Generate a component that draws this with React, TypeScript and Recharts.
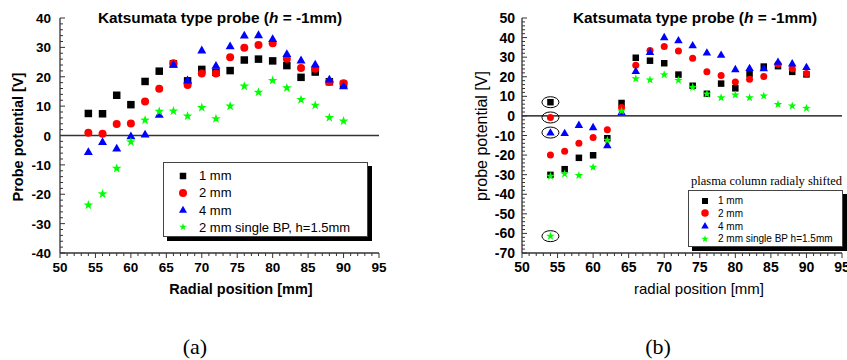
import React from "react";
import { ScatterChart, Scatter, XAxis, YAxis, ReferenceLine, Legend } from "recharts";

// (a) Katsumata probe, h = -1mm
const radialA = [54, 56, 58, 60, 62, 64, 66, 68, 70, 72, 74, 76, 78, 80, 82, 84, 86, 88, 90];
const probeA1mm = [7.5, 7.4, 13.7, 10.5, 18.4, 21.9, 24.4, 18.6, 22.5, 21.5, 22.1, 25.7, 26, 25.4, 23.8, 19.8, 21.6, 18.3, 17.4];
const probeA2mm = [0.9, 0.6, 3.9, 4.1, 11.6, 15.9, 24.6, 17.2, 21.1, 21.1, 26.6, 29.9, 30.8, 31.4, 26.1, 23, 22.7, 18.2, 17.8];
const probeA4mm = [-5.6, -2.2, -4.4, -0.2, 0.4, 7.1, 24.1, 18.8, 29, 23.8, 30.4, 34.1, 34.2, 32.9, 27.8, 25.6, 24.2, 19.1, 16.8];
const probeABP = [-23.7, -19.9, -11.2, -2.2, 5.2, 8.2, 8.3, 6.6, 9.5, 5.7, 10, 16.8, 14.7, 18.7, 16.2, 12.2, 10.3, 6.1, 4.9];

// (b) plasma column radially shifted
const radialB = [54, 56, 58, 60, 62, 64, 66, 68, 70, 72, 74, 76, 78, 80, 82, 84, 86, 88, 90];
const probeB1mm = [-30.1, -27.2, -21.4, -20.1, -11.4, 6.6, 29.7, 28.2, 26.9, 21.1, 15.4, 11.3, 16.5, 14.1, 21.4, 25.2, 25.4, 22.5, 21.2];
const probeB2mm = [-20, -18, -13.9, -11, -7, 4.3, 25.9, 33.4, 35.5, 33.2, 29.5, 22.5, 20.6, 17.3, 18.7, 20.1, 26.4, 24.1, 21.7];
const probeB4mm = [null, -8.8, -4.6, -5.8, -15, 1.9, 22.9, 32.6, 40.2, 38.6, 36, 32.3, 31.2, 23.8, 24.4, 24.3, 27.6, 26.8, 24.9];
const probeBBP = [-30.8, -29.6, -30.4, -26.2, -12.4, 2.5, 19, 18.4, 21, 18.2, 14.6, 11.2, 9.3, 10.7, 9.3, 10.2, 5.9, 5.1, 3.9];
// circled points at 54 mm
const circledX = [54];
const circledB1mm = [7.0];
const circledB2mm = [-0.8];
const circledB4mm = [-8.5];
const circledBBP = [-61.4];

const xMajor = [50, 55, 60, 65, 70, 75, 80, 85, 90, 95];
const yMajorA = [-40, -30, -20, -10, 0, 10, 20, 30, 40];
const yMajorB = [-70, -60, -50, -40, -30, -20, -10, 0, 10, 20, 30, 40, 50];

// minor ticks: every 1 mm on x, every 2 V on y
const xTicks = Array.from({ length: 46 }, (_, i) => 50 + i);
const yTicksA = Array.from({ length: 41 }, (_, i) => -40 + i * 2);
const yTicksB = Array.from({ length: 61 }, (_, i) => -70 + i * 2);

const SANS = '"Liberation Sans", Arial, sans-serif';
const SERIF = '"Liberation Serif", "Times New Roman", serif';
const AXIS = "#333";

const namesA = ["1 mm", "2 mm", "4 mm", "2 mm single BP, h=1.5mm"];
const namesB = ["1 mm", "2 mm", "4 mm", "2 mm single BP h=1.5mm"];
const kinds = ["square", "circle", "triangle", "star"];
const colors = ["#000000", "#ff0000", "#0000ff", "#00ff00"];

const toPoints = (xs: number[], ys: (number | null)[], circled = false) =>
  xs.map((x, i) => ({ x, y: ys[i], circled })).filter((p) => p.y !== null);

function Marker({ kind, cx, cy, s, color }: any) {
  if (kind === "square") return <rect x={cx - s / 2} y={cy - s / 2} width={s} height={s} fill={color} />;
  if (kind === "circle") return <circle cx={cx} cy={cy} r={s / 2} fill={color} />;
  if (kind === "triangle") {
    const h = s * 0.87;
    return <polygon points={`${cx},${cy - h * 0.6} ${cx - s / 2},${cy + h * 0.4} ${cx + s / 2},${cy + h * 0.4}`} fill={color} />;
  }
  const pts: string[] = [];
  for (let k = 0; k < 10; k++) {
    const r = k % 2 === 0 ? s / 2 : s / 5;
    const a = -Math.PI / 2 + (k * Math.PI) / 5;
    pts.push(`${cx + r * Math.cos(a)},${cy + r * Math.sin(a)}`);
  }
  return <polygon points={pts.join(" ")} fill={color} />;
}

const makeShape = (kind: string, s: number, color: string) => (props: any) => {
  const { cx, cy, payload } = props;
  return (
    <g>
      <Marker kind={kind} cx={cx} cy={cy} s={s} color={color} />
      {payload && payload.circled && <ellipse cx={cx} cy={cy} rx={8.5} ry={5.5} fill="none" stroke="#000" strokeWidth={1} />}
    </g>
  );
};

const XTick = ({ x, y, payload, fs }: any) => {
  const v = payload.value;
  const major = xMajor.includes(v);
  return (
    <g>
      <line x1={x} x2={x} y1={y} y2={y + (major ? 5 : 3)} stroke={AXIS} strokeWidth={1} />
      {major && (
        <text x={x} y={y + 19} textAnchor="middle" fontSize={fs} fontWeight="bold" fontFamily={SANS} fill="#000">
          {v}
        </text>
      )}
    </g>
  );
};

const YTick = ({ x, y, payload, fs, gap, majors }: any) => {
  const v = payload.value;
  const major = majors.includes(v);
  return (
    <g>
      <line x1={x} x2={x + (major ? 5 : 3)} y1={y} y2={y} stroke={AXIS} strokeWidth={1} />
      {major && (
        <text x={x - gap} y={y + 5} textAnchor="end" fontSize={fs} fontWeight="bold" fontFamily={SANS} fill="#000">
          {v}
        </text>
      )}
    </g>
  );
};

const LegendA = () => (
  <div style={{ position: "relative", width: 205, height: 75, background: "#fff", border: "1px solid #444", boxShadow: "4px 4px 0 #000", boxSizing: "border-box", fontFamily: SANS, fontSize: 13, color: "#000" }}>
    {namesA.map((n, i) => (
      <div key={n} style={{ position: "absolute", left: 0, top: 12.7 + i * 17.2 - 8, height: 16, display: "flex", alignItems: "center", whiteSpace: "nowrap" }}>
        <svg width={35} height={16}>
          <Marker kind={kinds[i]} cx={19} cy={8} s={i === 0 ? 6.5 : 8} color={colors[i]} />
        </svg>
        <span>{n}</span>
      </div>
    ))}
  </div>
);

const LegendB = () => (
  <div style={{ position: "relative", width: 155, height: 74 }}>
    <div style={{ position: "absolute", left: 3, top: 0, fontFamily: SERIF, fontSize: 12.5, whiteSpace: "nowrap", color: "#000" }}>
      plasma column radialy shifted
    </div>
    <div style={{ position: "absolute", left: 0, top: 16, width: 155, height: 57, background: "#fff", border: "1px solid #444", boxShadow: "4px 4px 0 #000", boxSizing: "border-box", fontFamily: SANS, fontSize: 10, color: "#000" }}>
      {namesB.map((n, i) => (
        <div key={n} style={{ position: "absolute", left: 0, top: 9.7 + i * 12.7 - 7, height: 14, display: "flex", alignItems: "center", whiteSpace: "nowrap" }}>
          <svg width={29} height={14}>
            <Marker kind={kinds[i]} cx={16} cy={7} s={i === 0 ? 6 : 7.5} color={colors[i]} />
          </svg>
          <span>{n}</span>
        </div>
      ))}
    </div>
  </div>
);

const seriesA = [probeA1mm, probeA2mm, probeA4mm, probeABP];
const seriesB = [probeB1mm, probeB2mm, probeB4mm, probeBBP];
const circledB = [circledB1mm, circledB2mm, circledB4mm, circledBBP];
const sizesA = [7.5, 8, 9, 10];
const sizesB = [6.5, 7, 8.5, 9];

export default function App() {
  return (
    <div style={{ position: "fixed", left: 0, top: 0, width: 847, height: 360, background: "#fff", overflow: "hidden" }}>
      <div style={{ position: "absolute", left: 0, top: 0 }}>
        <ScatterChart width={420} height={300} margin={{ top: 18, right: 41, bottom: 17, left: 15 }}>
          <XAxis type="number" dataKey="x" domain={[50, 95]} ticks={xTicks} interval={0} tickSize={0} tickMargin={0} tickLine={false}
            axisLine={{ stroke: AXIS, strokeWidth: 1.3 }} height={30} tick={(p: any) => <XTick {...p} fs={13.5} />} />
          <YAxis type="number" dataKey="y" domain={[-40, 40]} ticks={yTicksA} interval={0} tickSize={0} tickMargin={0} tickLine={false}
            axisLine={{ stroke: AXIS, strokeWidth: 1.3 }} width={45} tick={(p: any) => <YTick {...p} fs={13.5} gap={9} majors={yMajorA} />} />
          <ReferenceLine y={0} stroke={AXIS} strokeWidth={1.3} />
          {seriesA.map((ys, i) => (
            <Scatter key={namesA[i]} name={namesA[i]} data={toPoints(radialA, ys)} isAnimationActive={false}
              shape={makeShape(kinds[i], sizesA[i], colors[i])} />
          ))}
          <Legend layout="vertical" align="center" verticalAlign="middle" content={() => <LegendA />}
            wrapperStyle={{ left: 163, top: 162, width: 205, height: 75 }} />
        </ScatterChart>
      </div>
      <div style={{ position: "absolute", left: 420, top: 0 }}>
        <ScatterChart width={427} height={300} margin={{ top: 18, right: 5, bottom: 17, left: 57 }}>
          <XAxis type="number" dataKey="x" domain={[50, 95]} ticks={xTicks} interval={0} tickSize={0} tickMargin={0} tickLine={false}
            axisLine={{ stroke: AXIS, strokeWidth: 1.3 }} height={30} tick={(p: any) => <XTick {...p} fs={14} />} />
          <YAxis type="number" dataKey="y" domain={[-70, 50]} ticks={yTicksB} interval={0} tickSize={0} tickMargin={0} tickLine={false}
            axisLine={{ stroke: AXIS, strokeWidth: 1.3 }} width={45} tick={(p: any) => <YTick {...p} fs={14} gap={7} majors={yMajorB} />} />
          <ReferenceLine y={0} stroke="#000" strokeWidth={1.3} />
          {seriesB.map((ys, i) => (
            <Scatter key={namesB[i]} name={namesB[i]}
              data={[...toPoints(radialB, ys), ...toPoints(circledX, circledB[i], true)]} isAnimationActive={false}
              shape={makeShape(kinds[i], sizesB[i], colors[i])} />
          ))}
          <Legend layout="vertical" align="center" verticalAlign="middle" content={() => <LegendB />}
            wrapperStyle={{ left: 268, top: 174, width: 160, height: 78 }} />
        </ScatterChart>
      </div>
      <svg width={847} height={360} style={{ position: "absolute", left: 0, top: 0, pointerEvents: "none" }}>
        <text x={220} y={23} textAnchor="middle" fontFamily={SANS} fontWeight="bold" fontSize={15.4}>
          Katsumata type probe (<tspan fontStyle="italic">h</tspan> = -1mm)
        </text>
        <text x={695} y={23} textAnchor="middle" fontFamily={SANS} fontWeight="bold" fontSize={15.4}>
          Katsumata type probe (<tspan fontStyle="italic">h</tspan> = -1mm)
        </text>
        <text transform="translate(23,137) rotate(-90)" textAnchor="middle" fontFamily={SANS} fontWeight="bold" fontSize={14.5}>
          Probe potential [V]
        </text>
        <text transform="translate(487,136) rotate(-90)" textAnchor="middle" fontFamily={SANS} fontSize={16}>
          probe potential [V]
        </text>
        <text x={241} y={294} textAnchor="middle" fontFamily={SANS} fontWeight="bold" fontSize={14.5}>
          Radial position [mm]
        </text>
        <text x={699} y={294} textAnchor="middle" fontFamily={SANS} fontSize={15}>
          radial position [mm]
        </text>
        <text x={195} y={354} textAnchor="middle" fontFamily={SERIF} fontSize={22}>(a)</text>
        <text x={658} y={354} textAnchor="middle" fontFamily={SERIF} fontSize={22}>(b)</text>
      </svg>
    </div>
  );
}
